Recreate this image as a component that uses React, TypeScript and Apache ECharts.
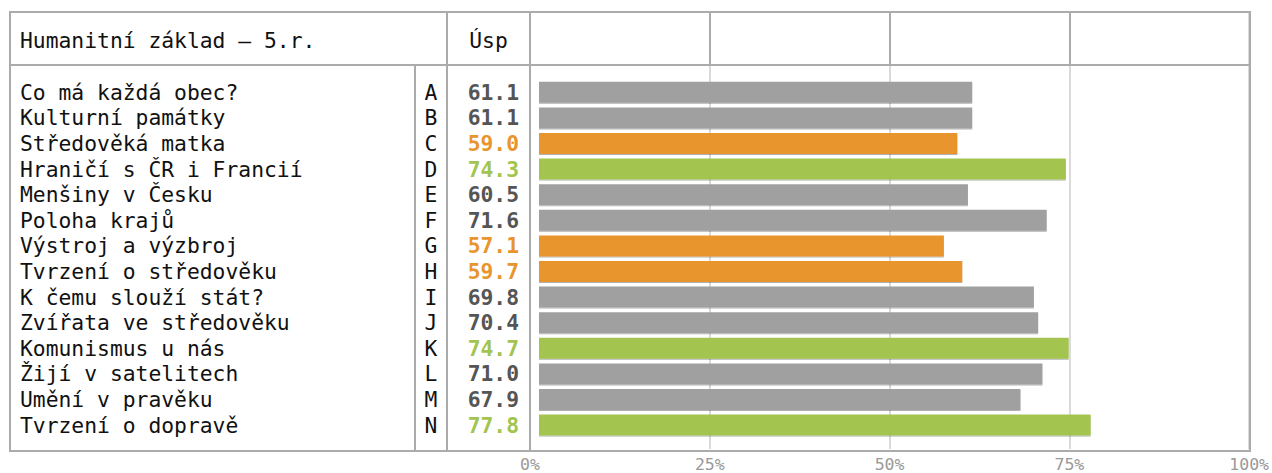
import React, { useEffect, useRef } from "react";
import * as echarts from "echarts";

const title = "Humanitní základ – 5.r.";
const valueHeader = "Úsp";
const names = [
  "Co má každá obec?",
  "Kulturní památky",
  "Středověká matka",
  "Hraničí s ČR i Francií",
  "Menšiny v Česku",
  "Poloha krajů",
  "Výstroj a výzbroj",
  "Tvrzení o středověku",
  "K čemu slouží stát?",
  "Zvířata ve středověku",
  "Komunismus u nás",
  "Žijí v satelitech",
  "Umění v pravěku",
  "Tvrzení o dopravě",
];
const letters = ["A", "B", "C", "D", "E", "F", "G", "H", "I", "J", "K", "L", "M", "N"];
const values = [61.1, 61.1, 59.0, 74.3, 60.5, 71.6, 57.1, 59.7, 69.8, 70.4, 74.7, 71.0, 67.9, 77.8];
// g = normal, o = weak, n = strong
const levels = ["g", "g", "o", "n", "g", "g", "o", "o", "g", "g", "n", "g", "g", "n"];
const xTicks = [0, 25, 50, 75, 100];

const barColors: Record<string, string> = { g: "#a0a0a0", o: "#e8952e", n: "#a3c44f" };
const textColors: Record<string, string> = { g: "#555555", o: "#e8952e", n: "#a3c44f" };

const FONT = "'DejaVu Sans Mono', monospace";
const FS = 21.33;

export default function App() {
  const ref = useRef<HTMLDivElement>(null);
  useEffect(() => {
    if (!ref.current) return;
    const chart = echarts.init(ref.current, undefined, { renderer: "svg" });
    const W = 1272;
    const frameL = 10, frameR = 1250, frameT = 12, frameB = 451, headB = 65;
    const dark = "#ababab";
    const line = (x1: number, y1: number, x2: number, y2: number, c = dark) => ({
      type: "line",
      shape: { x1, y1, x2, y2 },
      style: { stroke: c, lineWidth: 2 },
      z: 10,
    });
    const rowH = 25.6;
    const gridTop = 79.5;
    const gridH = rowH * names.length;
    const catAxisBase = {
      gridIndex: 1,
      type: "category",
      inverse: true,
      position: "left",
      axisLine: { show: false },
      axisTick: { show: false },
      splitLine: { show: false },
    };
    chart.setOption({
      animation: false,
      grid: [
        { left: 530, right: W - frameR, top: frameT, bottom: 473 - frameB },
        { left: 539, right: W - 1248, top: gridTop, height: gridH },
      ],
      xAxis: [
        {
          gridIndex: 0,
          type: "value",
          min: xTicks[0],
          max: xTicks[xTicks.length - 1],
          interval: 25,
          axisLine: { show: false },
          axisTick: { show: false },
          splitLine: { show: true, lineStyle: { color: "#dadada", width: 2 } },
          axisLabel: {
            formatter: "{value}%",
            color: "#999999",
            fontSize: 16.5,
            fontFamily: FONT,
            margin: 7,
            showMinLabel: true,
            showMaxLabel: true,
          },
        },
        { gridIndex: 1, type: "value", min: 0, max: 100, show: false },
      ],
      yAxis: [
        { gridIndex: 0, type: "value", show: false },
        {
          ...catAxisBase,
          data: names,
          axisLabel: {
            interval: 0,
            align: "left",
            margin: 539 - 20,
            color: "#111111",
            fontSize: FS,
            fontFamily: FONT,
          },
        },
        {
          ...catAxisBase,
          data: letters,
          axisLabel: {
            interval: 0,
            align: "center",
            margin: 539 - 431,
            color: "#111111",
            fontSize: FS,
            fontFamily: FONT,
          },
        },
        {
          ...catAxisBase,
          data: letters.map((_, i) => String(i)),
          axisLabel: {
            interval: 0,
            align: "right",
            margin: 539 - 519,
            fontSize: FS,
            fontFamily: FONT,
            formatter: (v: string) => {
              const i = Number(v);
              return `{${levels[i]}|${values[i].toFixed(1)}}`;
            },
            rich: {
              g: { color: textColors.g, fontWeight: "bold", fontSize: FS, fontFamily: FONT },
              o: { color: textColors.o, fontWeight: "bold", fontSize: FS, fontFamily: FONT },
              n: { color: textColors.n, fontWeight: "bold", fontSize: FS, fontFamily: FONT },
            },
          },
        },
      ],
      series: [
        {
          type: "bar",
          xAxisIndex: 1,
          yAxisIndex: 1,
          barWidth: 21,
          data: values.map((v, i) => ({
            value: v,
            itemStyle: {
              color: barColors[levels[i]],
              shadowColor: "rgba(0,0,0,0.3)",
              shadowOffsetX: 0,
              shadowOffsetY: 1,
              shadowBlur: 1,
            },
          })),
        },
      ],
      graphic: [
        {
          type: "rect",
          shape: { x: frameL, y: frameT, width: frameR - frameL, height: frameB - frameT },
          style: { fill: "none", stroke: dark, lineWidth: 2 },
          z: 10,
        },
        line(frameL, headB, frameR, headB),
        line(447, frameT, 447, frameB),
        line(530, frameT, 530, frameB),
        line(415, headB, 415, frameB),
        line(710, frameT, 710, headB),
        line(890, frameT, 890, headB),
        line(1070, frameT, 1070, headB),
        {
          type: "text",
          x: 20,
          y: 40,
          style: {
            text: title,
            fill: "#111111",
            font: `${FS}px ${FONT}`,
            textVerticalAlign: "middle",
            textAlign: "left",
          },
          z: 11,
        },
        {
          type: "text",
          x: 488.5,
          y: 40,
          style: {
            text: valueHeader,
            fill: "#111111",
            font: `${FS}px ${FONT}`,
            textVerticalAlign: "middle",
            textAlign: "center",
          },
          z: 11,
        },
      ],
    });
    return () => chart.dispose();
  }, []);
  return (
    <div
      ref={ref}
      style={{ position: "fixed", left: 0, top: 0, width: 1272, height: 473, background: "#fff" }}
    />
  );
}
